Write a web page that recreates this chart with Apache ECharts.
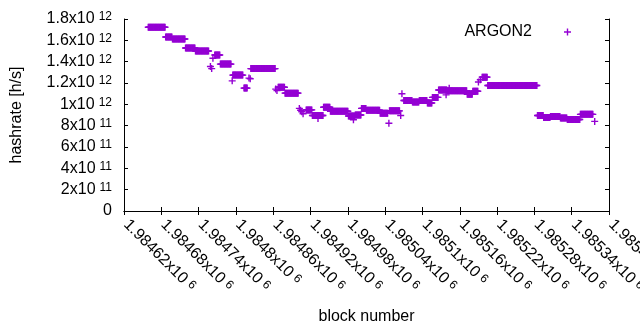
<!DOCTYPE html>
<html>
<head>
<meta charset="UTF-8">
<title>ARGON2 hashrate</title>
<script type="text/javascript" src="https://cdn.jsdelivr.net/npm/echarts/dist/echarts.min.js"></script>
<style>
  body{margin:0}
</style>
</head>
<body>
<div id="main" style="width:640px;height:330px"></div>
<script type="text/javascript">
// runs of blocks with the same hashrate estimate (first block, last block, h/s)
var runStart = [1984659, 1984687, 1984698, 1984719, 1984735, 1984759, 1984761, 1984763, 1984766, 1984775,
                1984794, 1984795, 1984813, 1984821, 1984823, 1984824, 1984864, 1984866, 1984868, 1984879,
                1984902, 1984904, 1984906, 1984908, 1984913, 1984923, 1984932, 1984941, 1984952, 1984981,
                1984989, 1984992, 1985002, 1985010, 1985032, 1985046, 1985047, 1985065, 1985067, 1985070,
                1985084, 1985095, 1985108, 1985116, 1985126, 1985138, 1985140, 1985143, 1985172, 1985181,
                1985190, 1985193, 1985196, 1985205, 1985285, 1985295, 1985306, 1985322, 1985333, 1985354,
                1985377];
var runEnd   = [1984686, 1984697, 1984718, 1984734, 1984756, 1984759, 1984761, 1984763, 1984774, 1984792,
                1984794, 1984811, 1984818, 1984821, 1984823, 1984863, 1984864, 1984866, 1984878, 1984900,
                1984902, 1984904, 1984906, 1984908, 1984922, 1984940, 1984932, 1984951, 1984980, 1984991,
                1984989, 1985001, 1985009, 1985031, 1985044, 1985046, 1985063, 1985065, 1985067, 1985083,
                1985094, 1985107, 1985115, 1985125, 1985139, 1985138, 1985171, 1985143, 1985180, 1985189,
                1985190, 1985193, 1985204, 1985284, 1985294, 1985305, 1985321, 1985332, 1985353, 1985374,
                1985377];
var runRate  = [1.723e12, 1.631e12, 1.612e12, 1.528e12, 1.500e12, 1.355e12, 1.335e12, 1.432e12, 1.462e12, 1.377e12,
                1.220e12, 1.274e12, 1.152e12, 1.246e12, 1.240e12, 1.335e12, 1.143e12, 1.130e12, 1.160e12, 1.105e12,
                0.962e12, 0.945e12, 0.930e12, 0.912e12, 0.948e12, 0.895e12, 0.868e12, 0.972e12, 0.935e12, 0.890e12,
                0.855e12, 0.900e12, 0.962e12, 0.945e12, 0.917e12, 0.823e12, 0.939e12, 0.895e12, 1.099e12, 1.036e12,
                1.021e12, 1.036e12, 1.012e12, 1.065e12, 1.135e12, 1.089e12, 1.127e12, 1.150e12, 1.095e12, 1.122e12,
                1.210e12, 1.230e12, 1.255e12, 1.177e12, 0.895e12, 0.877e12, 0.886e12, 0.871e12, 0.858e12, 0.906e12,
                0.840e12];

var xMin = 1984620, xMax = 1985400, xStep = 60;
var yMin = 0, yMax = 1.8e12, yStep = 2e11;

// one point per block
var points = [];
for (var i = 0; i < runStart.length; i++) {
    for (var b = runStart[i]; b <= runEnd[i]; b++) {
        points.push([b, runRate[i]]);
    }
}

// gnuplot style "1.8x10^12"
function sci(v, digits) {
    if (v === 0) return '{m|0}';
    var e = Math.floor(Math.log10(v) + 1e-9);
    var m = parseFloat((v / Math.pow(10, e)).toFixed(digits));
    return '{m|' + m + 'x10}{s|' + e + '}';
}

var font = 'Liberation Sans, Arial, sans-serif';
var rich = {
    m: {fontSize: 16, fontFamily: font, color: '#000', lineHeight: 16, verticalAlign: 'bottom'},
    s: {fontSize: 12, fontFamily: font, color: '#000', lineHeight: 12, verticalAlign: 'top', padding: [0, 0, 6, 4]}
};
var plus = 'path://M4,0H6V4H10V6H6V10H4V6H0V4H4Z';
var black = {lineStyle: {color: '#000', width: 1}};

var myEcharts = echarts.init(document.getElementById('main'));
var option = {
    animation: false,
    grid: {left: 124, right: 31, top: 19, bottom: 119, containLabel: false, outerBoundsMode: 'none'},
    legend: {
        data: [{name: 'ARGON2', icon: plus}],
        right: 69, top: 22, padding: 0,
        align: 'right',
        itemWidth: 7, itemHeight: 7,
        textStyle: {fontSize: 16, fontFamily: font, color: '#000', lineHeight: 18, padding: [2, 27, 0, 0]}
    },
    xAxis: [{
        type: 'value', min: xMin, max: xMax, interval: xStep,
        name: 'block number', nameLocation: 'middle', nameGap: 98,
        nameTextStyle: {fontSize: 16, fontFamily: font, color: '#000'},
        axisLine: black, splitLine: {show: false},
        axisTick: {inside: true, length: 4, lineStyle: {color: '#000'}},
        axisLabel: {rotate: -45, margin: 9, padding: [0, 0, 0, 3], rich: rich, formatter: function (v) { return sci(v, 5); }}
    }, {
        type: 'value', position: 'top', min: xMin, max: xMax, interval: xStep,
        axisLine: black, splitLine: {show: false}, axisLabel: {show: false},
        axisTick: {inside: true, length: 4, lineStyle: {color: '#000'}}
    }],
    yAxis: [{
        type: 'value', min: yMin, max: yMax, interval: yStep,
        name: 'hashrate [h/s]', nameLocation: 'middle', nameGap: 99,
        nameTextStyle: {fontSize: 16, fontFamily: font, color: '#000'},
        axisLine: {show: true, lineStyle: {color: '#000', width: 1}}, splitLine: {show: false},
        axisTick: {inside: true, length: 4, lineStyle: {color: '#000'}},
        axisLabel: {margin: 12, rich: rich, formatter: function (v) { return sci(v, 4); }}
    }, {
        type: 'value', position: 'right', min: yMin, max: yMax, interval: yStep,
        axisLine: {show: true, lineStyle: {color: '#000', width: 1}}, splitLine: {show: false},
        axisLabel: {show: false},
        axisTick: {inside: true, length: 4, lineStyle: {color: '#000'}}
    }],
    series: [{
        name: 'ARGON2',
        type: 'scatter',
        symbol: plus,
        symbolSize: 7,
        itemStyle: {color: '#9400d3', opacity: 1},
        data: points
    }]
};
myEcharts.setOption(option);
</script>
</body>
</html>
